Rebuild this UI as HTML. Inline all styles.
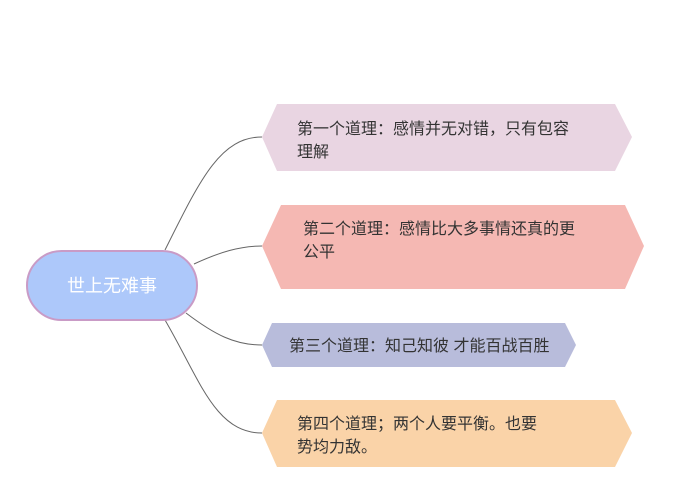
<!DOCTYPE html>
<html><head><meta charset="utf-8"><style>
body{margin:0;background:#fff;}
svg text{font-family:"Liberation Sans","Noto Sans CJK SC",sans-serif;}
</style></head><body>
<svg width="700" height="480" viewBox="0 0 700 480" xmlns="http://www.w3.org/2000/svg">
<rect width="700" height="480" fill="#fff"/>
<g fill="none" stroke="#666" stroke-width="1">
<path d="M165,250 C200,180 220,137 262,137"/>
<path d="M194,264 C220,252 240,246 262,246"/>
<path d="M186,313 C215,335 235,345 262,345"/>
<path d="M165,320 C200,380 215,433 262,433"/>
</g>
<polygon points="262,137 277,104 615,104 632,137 615,171 277,171" fill="#e9d5e2"/>
<polygon points="262,246 281,205 625,205 644,246 625,289 281,289" fill="#f5b8b3"/>
<polygon points="262,345 272,323 565,323 576,345 565,367 272,367" fill="#b8bcdb"/>
<polygon points="262,433 277,400 615,400 632,433 615,467 277,467" fill="#fad3a8"/>
<rect x="27" y="251" width="170" height="69" rx="34.5" fill="#adc8fa" stroke="#c99bc6" stroke-width="2"/>
<text x="112" y="292" font-size="18" fill="#fff" text-anchor="middle">世上无难事</text>
<g font-size="16" fill="#333">
<text x="297" y="134">第一个道理：感情并无对错，只有包容</text>
<text x="297" y="157">理解</text>
<text x="303" y="234">第二个道理：感情比大多事情还真的更</text>
<text x="303" y="257">公平</text>
<text x="289" y="351">第三个道理：知己知彼 才能百战百胜</text>
<text x="297" y="429">第四个道理；两个人要平衡。也要</text>
<text x="297" y="452">势均力敌。</text>
</g>
</svg>
</body></html>
